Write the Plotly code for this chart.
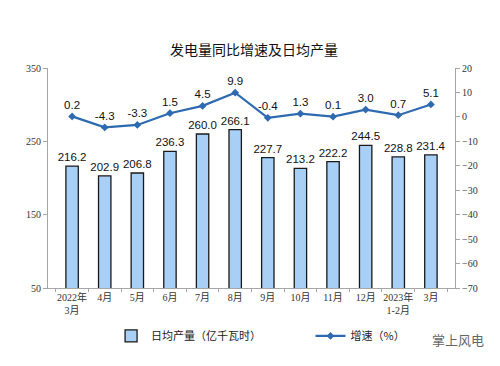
import plotly.graph_objects as go

categories = ["2022年<br>3月", "4月", "5月", "6月", "7月", "8月", "9月", "10月", "11月", "12月", "2023年<br>1-2月", "3月"]
daily_output = [216.2, 202.9, 206.8, 236.3, 260.0, 266.1, 227.7, 213.2, 222.2, 244.5, 228.8, 231.4]
growth = [0.2, -4.3, -3.3, 1.5, 4.5, 9.9, -0.4, 1.3, 0.1, 3.0, 0.7, 5.1]
left_ticks = [50, 150, 250, 350]
right_ticks = [20, 10, 0, -10, -20, -30, -40, -50, -60, -70]

LINE = "#2D6AB0"
BAR = "#A8CFF5"
AX = "#A6A6A6"
serif = "Liberation Serif, DejaVu Serif, serif"
cjk = "Noto Sans CJK SC, sans-serif"
sans = "Liberation Sans, Arial, sans-serif"

fig = go.Figure()
fig.add_trace(go.Bar(
    x=categories, y=daily_output, name="日均产量（亿千瓦时）",
    marker=dict(color=BAR, line=dict(color="#1a1a1a", width=1.3)),
    width=0.38, base=0,
    text=[f"{v:.1f}" for v in daily_output], textposition="outside",
    constraintext="none",
    textfont=dict(family=sans, size=11.5, color="#111"),
    cliponaxis=False, legend="legend",
))
fig.add_trace(go.Scatter(
    x=categories, y=growth, name="增速（%）", yaxis="y2",
    mode="lines+markers+text",
    line=dict(color=LINE, width=2.2),
    marker=dict(symbol="diamond", size=6, color=LINE),
    text=[f"{v:.1f}" for v in growth], textposition="top center",
    textfont=dict(family=sans, size=11.5, color="#111"),
    cliponaxis=False, legend="legend2",
))

# page body has an 8px margin, so the figure is 8px smaller and offset
fig.update_layout(
    width=492, height=358,
    margin=dict(l=40, r=45, t=60, b=78, autoexpand=False),
    paper_bgcolor="white", plot_bgcolor="white",
    title=dict(text="发电量同比增速及日均产量", x=0.5, xanchor="center", y=0.883, yanchor="middle",
               font=dict(family=cjk, size=14, color="#111")),
    xaxis=dict(
        automargin=False,
        showline=True, linecolor=AX, linewidth=1, ticks="outside", tickson="boundaries",
        ticklen=3, tickcolor=AX, showgrid=False,
        tickfont=dict(family=serif + ", " + cjk, size=10, color="#333"),
        tickangle=0,
    ),
    yaxis=dict(
        automargin=False,
        range=[50, 350], tickvals=left_ticks, showgrid=False, zeroline=False,
        showline=True, linecolor=AX, linewidth=1, ticks="outside", ticklen=4, tickcolor=AX,
        tickfont=dict(family=serif, size=10, color="#333"),
    ),
    yaxis2=dict(
        automargin=False,
        range=[-70, 20], tickvals=right_ticks, overlaying="y", side="right",
        showgrid=False, zeroline=False,
        showline=True, linecolor=AX, linewidth=1, ticks="outside", ticklen=4, tickcolor=AX,
        tickfont=dict(family=serif, size=10, color="#333"),
    ),
    legend=dict(x=0.155, y=-0.218, xanchor="left", yanchor="middle", orientation="h",
                font=dict(family=cjk, size=11, color="#222"), bgcolor="rgba(0,0,0,0)",
                itemwidth=30),
    legend2=dict(x=0.645, y=-0.218, xanchor="left", yanchor="middle", orientation="h",
                 font=dict(family=cjk, size=11, color="#222"), bgcolor="rgba(0,0,0,0)",
                 itemwidth=30),
    showlegend=True,
    annotations=[dict(text="掌上风电", xref="paper", yref="paper", x=1.075, y=-0.235,
                      xanchor="right", yanchor="middle", showarrow=False,
                      font=dict(family=cjk, size=13, color="#666"))],
)

fig.write_html("out.html")
